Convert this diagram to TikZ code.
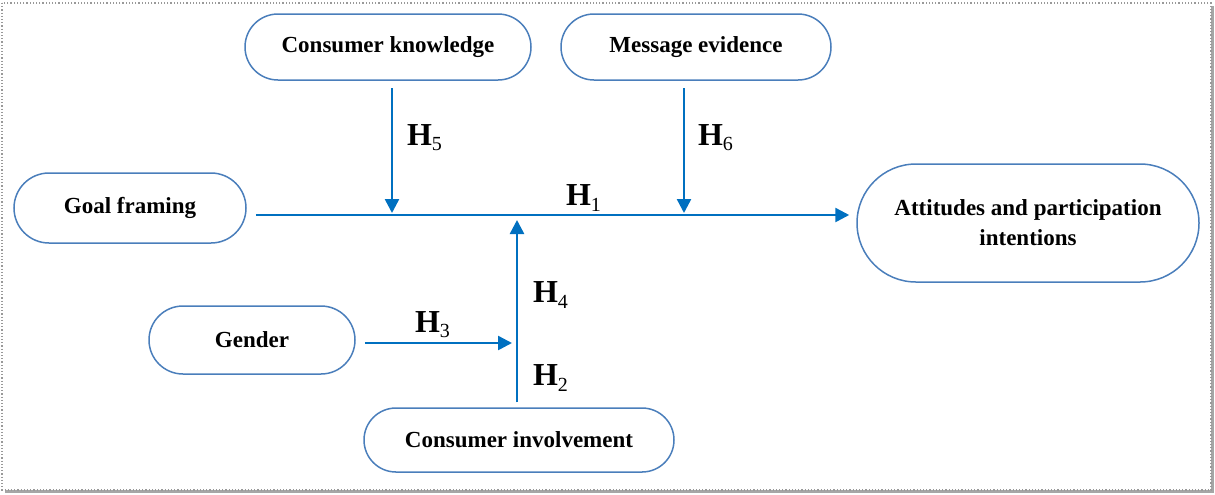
\documentclass[tikz,border=0pt]{standalone}
\usepackage{fontspec}
\setmainfont{Liberation Serif}
\usetikzlibrary{arrows.meta,calc,positioning,shapes.misc}

\definecolor{linkblue}{HTML}{0070C0}
\definecolor{boxblue}{HTML}{4A7EBB}

\newcommand{\hsub}[1]{H\textsubscript{\mdseries\fontsize{10}{10}\selectfont #1}}

\begin{document}
\begin{tikzpicture}[x=0.5pt, y=-0.5pt,
                    var/.style  ={rounded rectangle, draw=boxblue, line width=0.75pt, align=center,
                                  font=\fontsize{11.5}{15}\selectfont\bfseries, inner sep=2pt},
                    hyp/.style  ={-{Triangle[width=7pt,length=7pt]}, draw=linkblue, line width=1.25pt},
                    hlab/.style ={font=\fontsize{16}{18}\selectfont\bfseries, inner sep=0}]

      % frame with shadow
      \useasboundingbox (0,0) rectangle (1215,494);
      \draw[gray!70, line width=1.6pt] (1212.5,6) -- (1212.5,491.5) -- (5,491.5);
      \draw[gray!80, densely dotted, line width=0.6pt] (2,3) rectangle (1211,490);

      \coordinate (mid) at (517,215);
      \node[var, minimum width=147pt, minimum height=33pt] at (388,47)  (know)   {Consumer knowledge};
      \node[var, minimum width=139pt, minimum height=33pt] at (696,47)  (msg)    {Message evidence};
      \node[var, minimum width=120pt, minimum height=35pt] at (130,208) (goal)   {Goal framing};
      \node[var, minimum width=175pt, minimum height=59pt] at (1028,223) (att)   {Attitudes and participation\\intentions};
      \node[var, minimum width=107pt, minimum height=34pt] at (252,340) (gender) {Gender};
      \node[var, minimum width=159pt, minimum height=32pt] at (519,440) (inv)    {Consumer involvement};
      \coordinate (kfoot) at (392,88);
      \coordinate (mfoot) at (684,88);

      \path[hyp, shorten <=4.5pt, shorten >=3.5pt] (goal.east |- mid) -- (att.west |- mid);
      \path[hyp, shorten >=1pt] (kfoot) -- (kfoot |- mid);
      \path[hyp, shorten >=1pt] (mfoot) -- (mfoot |- mid);
      \path[hyp, shorten <=2.5pt, shorten >=2.5pt] (inv.north -| mid) -- (mid);
      \path[hyp, shorten <=4.5pt, shorten >=2.5pt] (gender.east |- 0,343) -- (mid |- 0,343);

      \node[hlab] at (425,138) (h5) {\hsub{5}};
      \node[hlab] at (716,138) (h6) {\hsub{6}};
      \node[hlab] at (584,198) (h1) {\hsub{1}};
      \node[hlab] at (551,295) (h4) {\hsub{4}};
      \node[hlab] at (433,325) (h3) {\hsub{3}};
      \node[hlab] at (551,378) (h2) {\hsub{2}};
    \end{tikzpicture}
\end{document}
